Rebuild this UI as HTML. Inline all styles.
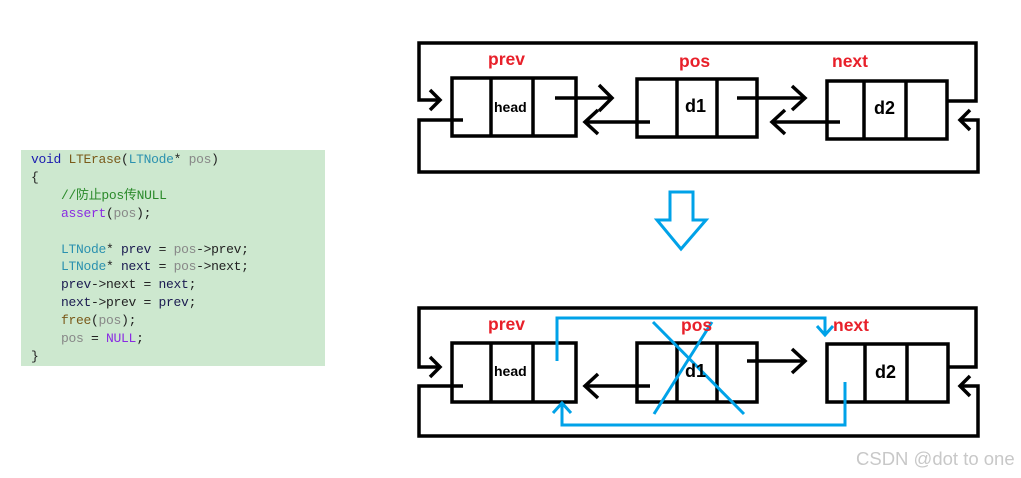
<!DOCTYPE html>
<html><head><meta charset="utf-8"><style>
body{margin:0;width:1021px;height:478px;background:#fff;overflow:hidden;position:relative;font-family:"Liberation Sans",sans-serif}
.code{position:absolute;left:21px;top:150px;width:304px;height:216px;background:#cde8cf;font-family:"Liberation Mono","Noto Sans CJK SC",monospace;font-size:13px;line-height:17.9px;color:#222;padding-top:1px;box-sizing:border-box}
.code div{white-space:pre;padding-left:10px;letter-spacing:-0.3px}
.k{color:#1a1ab0}.t{color:#2b91af}.g{color:#888}.c{color:#2a8a2a}.p{color:#8a2be2}.n{color:#1a1a50}
.wm{position:absolute;left:856px;top:448px;font-size:18.5px;color:#c8c8c8}
</style></head><body>
<div class="code">
<div><span class="k">void</span> <span style="color:#7a5a1a">LTErase</span>(<span class="t">LTNode</span>* <span class="g">pos</span>)</div>
<div>{</div>
<div>    <span class="c">//防止pos传NULL</span></div>
<div>    <span class="p">assert</span>(<span class="g">pos</span>);</div>
<div> </div>
<div>    <span class="t">LTNode</span>* <span class="n">prev</span> = <span class="g">pos</span>-&gt;prev;</div>
<div>    <span class="t">LTNode</span>* <span class="n">next</span> = <span class="g">pos</span>-&gt;next;</div>
<div>    <span class="n">prev</span>-&gt;next = <span class="n">next</span>;</div>
<div>    <span class="n">next</span>-&gt;prev = <span class="n">prev</span>;</div>
<div>    <span style="color:#7a5a1a">free</span>(<span class="g">pos</span>);</div>
<div>    <span class="g">pos</span> = <span class="p">NULL</span>;</div>
<div>}</div>
</div>
<svg width="1021" height="478" style="position:absolute;left:0;top:0" fill="none" stroke="#000" stroke-width="3.5">
<!-- TOP -->
<polyline points="440,100 419,100 419,43 976,43 976,101 947,101"/>
<polyline points="463,120 419,120 419,172 978,172 978,120 960,120"/>
<polyline points="430,90 440,100 430,110"/>
<polyline points="970,110 960,120 970,130"/>
<rect x="452" y="78" width="124" height="58"/><line x1="491" y1="78" x2="491" y2="136"/><line x1="533" y1="78" x2="533" y2="136"/>
<rect x="637" y="79" width="120" height="58"/><line x1="677" y1="79" x2="677" y2="137"/><line x1="717" y1="79" x2="717" y2="137"/>
<rect x="827" y="81" width="120" height="58"/><line x1="864" y1="81" x2="864" y2="139"/><line x1="906" y1="81" x2="906" y2="139"/>
<line x1="555" y1="98" x2="612" y2="98"/><polyline points="599,85 612,98 599,111"/>
<line x1="650" y1="122" x2="585" y2="122"/><polyline points="598,110 585,122 598,134"/>
<line x1="737" y1="98" x2="805" y2="98"/><polyline points="792,86 805,98 792,110"/>
<line x1="840" y1="122" x2="772" y2="122"/><polyline points="785,110 772,122 785,134"/>
<!-- arrow -->
<polygon points="670,192 693,192 693,220 706,220 681,249 657,220 670,220" stroke="#00a2e8" stroke-width="3"/>
<!-- BOTTOM -->
<polyline points="440,367 419,367 419,308 976,308 976,367 948,367"/>
<polyline points="463,386 419,386 419,436 978,436 978,386 960,386"/>
<polyline points="430,357 440,367 430,377"/>
<polyline points="970,376 960,386 970,396"/>
<rect x="452" y="343" width="124" height="59"/><line x1="491" y1="343" x2="491" y2="402"/><line x1="533" y1="343" x2="533" y2="402"/>
<rect x="637" y="343" width="120" height="59"/><line x1="677" y1="343" x2="677" y2="402"/><line x1="717" y1="343" x2="717" y2="402"/>
<rect x="827" y="344" width="121" height="58"/><line x1="865" y1="344" x2="865" y2="402"/><line x1="907" y1="344" x2="907" y2="402"/>
<line x1="650" y1="386" x2="585" y2="386"/><polyline points="598,374 585,386 598,398"/>
<line x1="747" y1="361" x2="805" y2="361"/><polyline points="792,349 805,361 792,373"/>
<g stroke="#00a2e8" stroke-width="3">
<polyline points="557,361 557,318 825,318 825,334"/><polyline points="817,326 825,335 833,326"/>
<polyline points="845,382 845,425 562,425 562,403"/><polyline points="553,413 562,403 571,413"/>
<line x1="653" y1="322" x2="744" y2="414"/><line x1="712" y1="322" x2="654" y2="414"/>
</g>
</svg>
<div style="position:absolute;left:0;top:0;font-weight:bold;color:#e8202a;font-size:17.5px">
<span style="position:absolute;left:488px;top:49px">prev</span>
<span style="position:absolute;left:679px;top:51px">pos</span>
<span style="position:absolute;left:832px;top:51px">next</span>
<span style="position:absolute;left:488px;top:314px">prev</span>
<span style="position:absolute;left:681px;top:315px">pos</span>
<span style="position:absolute;left:833px;top:315px">next</span>
</div>
<div style="position:absolute;left:0;top:0;font-weight:bold;color:#000">
<span style="position:absolute;left:494px;top:99px;font-size:14px">head</span>
<span style="position:absolute;left:685px;top:96px;font-size:18px">d1</span>
<span style="position:absolute;left:874px;top:98px;font-size:18px">d2</span>
<span style="position:absolute;left:494px;top:363px;font-size:14px">head</span>
<span style="position:absolute;left:685px;top:361px;font-size:18px">d1</span>
<span style="position:absolute;left:875px;top:362px;font-size:18px">d2</span>
</div>
<div class="wm">CSDN @dot to one</div>
</body></html>
